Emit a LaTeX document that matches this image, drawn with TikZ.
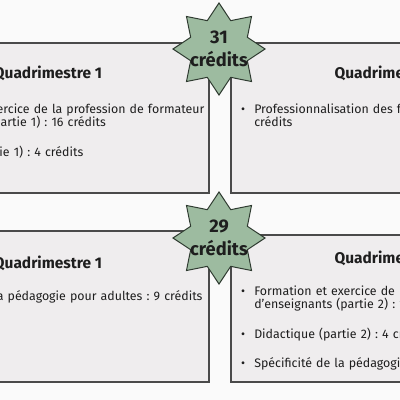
\documentclass[tikz,border=0pt]{standalone}
\usepackage{fontspec}
\setmainfont{Fira Sans}
\usepackage{tikz}
\usetikzlibrary{shapes.geometric}
\definecolor{pagebg}{HTML}{FAFAFA}
\definecolor{boxfill}{HTML}{EFEDEE}
\definecolor{boxline}{HTML}{4A4A4A}
\definecolor{sage}{HTML}{9DBBA0}
\definecolor{sageline}{HTML}{2F3B31}
\definecolor{inkdark}{HTML}{1E1E1E}
\frenchspacing
\hyphenpenalty=10000
\exhyphenpenalty=10000
\newcommand{\bul}{\par\noindent\llap{\textbullet\hspace{6.5pt}}}
\newcommand{\nextbul}{\par\vspace{11.5pt}\bul}

\begin{document}
\begin{tikzpicture}[
  x=0.025cm, y=-0.025cm,
  qbox/.style={draw=boxline, line width=1.1pt, fill=boxfill, anchor=north west, minimum width=8.05cm, inner sep=0pt},
  qhead/.style={font=\fontsize{11}{12}\selectfont\bfseries, text=inkdark, anchor=base},
  blist/.style={text width=7.625cm, align=left, anchor=base west, inner sep=0pt, font=\fontsize{8.8}{9.5}\selectfont, text=inkdark},
  sagestar/.style={star, star points=8, star point ratio=1.5, minimum size=2.3cm, inner sep=0pt, draw=sageline, line width=0.7pt, fill=sage},
  sagetext/.style={font=\fontsize{13}{16.4}\selectfont\bfseries, align=center, text=inkdark},
]
  \useasboundingbox (0,0) rectangle (400,400);
  \clip (0,0) rectangle (400,400);
  \fill[pagebg] (0,0) rectangle (400,400);

  % premier bloc : 31 credits
  \node[qbox, minimum height=3.75cm] (q1a) at (-114,42) {};
  \node[qbox, minimum height=3.75cm] (q1b) at (230,42) {};
  \node[qhead] (h1a) at (48,79) {Quadrimestre 1};
  \node[qhead] (h1b) at (389,79) {Quadrimestre 2};
  \node[blist] (l1a) at (-93,100) {\bul Formation et exercice de la profession de formateur d'enseignants (partie 1) : 16 crédits
    \nextbul Didactique (partie 1) : 4 crédits};
  \node[blist] (l1b) at (254,100) {\bul Professionnalisation des formateurs (partie 1) : 11\\crédits};

  % second bloc : 29 credits
  \node[qbox, minimum height=3.775cm] (q2a) at (-114,230) {};
  \node[qbox, minimum height=3.675cm] (q2b) at (230,234) {};
  \node[qhead] (h2a) at (48,268) {Quadrimestre 1};
  \node[qhead] (h2b) at (389,263) {Quadrimestre 2};
  \node[blist] (l2a) at (-93,287) {\bul Spécificités de la pédagogie pour adultes : 9 crédits};
  \node[blist] (l2b) at (254,282) {\bul Formation et exercice de la profession de formateur d'enseignants (partie 2) : 11 crédits
    \nextbul Didactique (partie 2) : 4 crédits
    \nextbul Spécificité de la pédagogie : 5 crédits};

  % etoiles
  \node[sagestar] (s31) at (219,49) {};
  \node[sagetext] (t31) at (s31.center) {31\\crédits};
  \node[sagestar] (s29) at (219,238) {};
  \node[sagetext] (t29) at (s29.center) {29\\crédits};
\end{tikzpicture}
\end{document}
